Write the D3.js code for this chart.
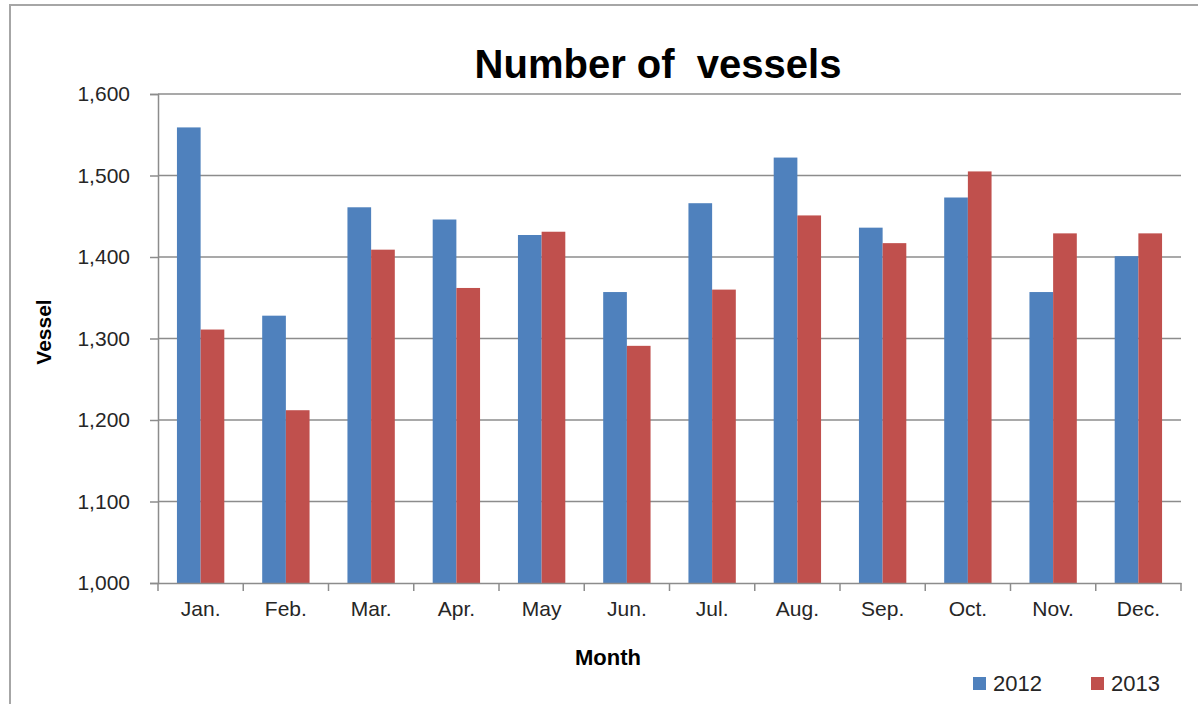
<!DOCTYPE html>
<html>
<head>
<meta charset="utf-8">
<script src="https://cdn.jsdelivr.net/npm/d3@7"></script>
<style>
  html, body { margin: 0; padding: 0; background: #fff; overflow: hidden; }
  svg { display: block; }
  text { font-family: "Liberation Sans", Arial, sans-serif; }
</style>
</head>
<body>
<svg id="chart" width="1198" height="704"></svg>
<script>
const months = ["Jan.", "Feb.", "Mar.", "Apr.", "May", "Jun.", "Jul.", "Aug.", "Sep.", "Oct.", "Nov.", "Dec."];
const seriesNames = ["2012", "2013"];
const values2012 = [1559, 1328, 1461, 1446, 1427, 1357, 1466, 1522, 1436, 1473, 1357, 1401];
const values2013 = [1311, 1212, 1409, 1362, 1431, 1291, 1360, 1451, 1417, 1505, 1429, 1429];
const yTicks = [1000, 1100, 1200, 1300, 1400, 1500, 1600];
const colors = ["#4F81BD", "#C0504D"];

(function () {
const svg = d3.select("#chart");

// outer frame
svg.append("rect")
  .attr("x", 10).attr("y", 5)
  .attr("width", 1210).attr("height", 720)
  .attr("fill", "none").attr("stroke", "#a6a6a6").attr("stroke-width", 2);

const pLeft = 158, pRight = 1181, pTop = 94, pBottom = 583;

const y = d3.scaleLinear().domain([1000, 1600]).range([pBottom, pTop]);
const x0 = d3.scaleBand().domain(months).range([pLeft, pRight]).paddingInner(0).paddingOuter(0);
const x1 = d3.scaleBand().domain(seriesNames).range([0, x0.bandwidth()]).paddingInner(0).paddingOuter(0.8);

// gridlines
svg.append("g").selectAll("line").data(yTicks.filter(d => d > 1000)).join("line")
  .attr("x1", pLeft).attr("x2", pRight)
  .attr("y1", d => y(d)).attr("y2", d => y(d))
  .attr("stroke", "#8c8c8c").attr("stroke-width", 1.5);

// bars
const data = months.map((m, i) => ({ month: m, vals: [values2012[i], values2013[i]] }));
const groups = svg.append("g").selectAll("g").data(data).join("g")
  .attr("transform", d => `translate(${x0(d.month)},0)`);
groups.selectAll("rect").data(d => d.vals.map((v, j) => ({ key: seriesNames[j], v, j }))).join("rect")
  .attr("x", d => x1(d.key))
  .attr("width", x1.bandwidth())
  .attr("y", d => y(d.v))
  .attr("height", d => y(1000) - y(d.v))
  .attr("fill", d => colors[d.j]);

// y axis
const yAxis = d3.axisLeft(y).tickValues(yTicks).tickSize(8).tickPadding(20)
  .tickFormat(d3.format(","));
const gy = svg.append("g").attr("transform", `translate(${pLeft},0)`).call(yAxis);
gy.select(".domain").attr("stroke", "#8c8c8c").attr("stroke-width", 1.5);
gy.selectAll(".tick line").attr("stroke", "#8c8c8c").attr("stroke-width", 1.5);
gy.selectAll(".tick text").attr("font-size", 21).attr("fill", "#262626")
  .attr("font-family", "'Liberation Sans', Arial, sans-serif");

// x axis
const xAxis = d3.axisBottom(x0).tickSize(0).tickPadding(18);
const gx = svg.append("g").attr("transform", `translate(0,${pBottom})`).call(xAxis);
gx.select(".domain").attr("stroke", "#8c8c8c").attr("stroke-width", 1.5);
gx.selectAll(".tick text").attr("font-size", 21).attr("fill", "#262626")
  .attr("font-family", "'Liberation Sans', Arial, sans-serif");
// category boundary ticks
const boundaries = months.map(m => x0(m)).concat([x0(months[months.length - 1]) + x0.bandwidth()]);
gx.append("g").selectAll("line").data(boundaries).join("line")
  .attr("x1", d => d).attr("x2", d => d)
  .attr("y1", 0).attr("y2", 8)
  .attr("stroke", "#8c8c8c").attr("stroke-width", 1.5);

// title
svg.append("text")
  .attr("x", 658).attr("y", 78)
  .attr("text-anchor", "middle")
  .attr("font-size", 40).attr("font-weight", "bold").attr("fill", "#000")
  .style("white-space", "pre")
  .text("Number of  vessels");

// axis titles
svg.append("text")
  .attr("transform", "translate(51,332) rotate(-90)")
  .attr("text-anchor", "middle")
  .attr("font-size", 21).attr("font-weight", "bold").attr("fill", "#000")
  .text("Vessel");

svg.append("text")
  .attr("x", 608).attr("y", 665)
  .attr("text-anchor", "middle")
  .attr("font-size", 22).attr("font-weight", "bold").attr("fill", "#000")
  .text("Month");

// legend
const legendX = [973, 1091];
const lg = svg.append("g").selectAll("g").data(seriesNames).join("g")
  .attr("transform", (d, i) => `translate(${legendX[i]},0)`);
lg.append("rect").attr("x", 0).attr("y", 677).attr("width", 13).attr("height", 13)
  .attr("fill", (d, i) => colors[i]);
lg.append("text").attr("x", 20).attr("y", 691)
  .attr("font-size", 22).attr("fill", "#262626")
  .text(d => d);
})();
</script>
</body>
</html>
